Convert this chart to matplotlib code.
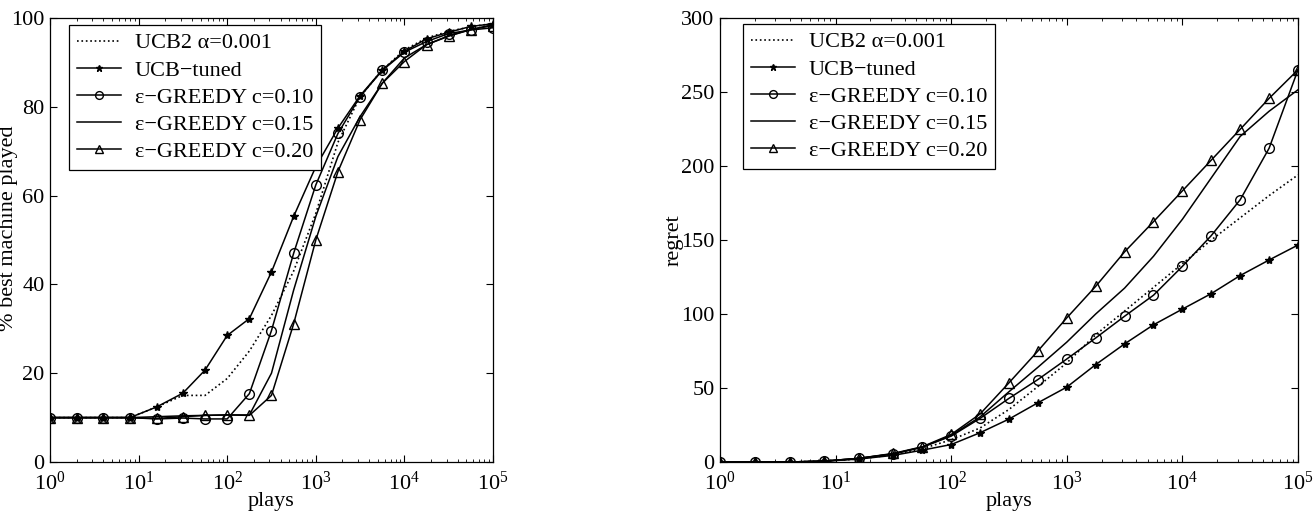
import numpy as np
import matplotlib
matplotlib.use('Agg')
import matplotlib.pyplot as plt
from matplotlib.ticker import LogLocator, NullFormatter

plt.rcParams['font.family'] = ['Liberation Serif', 'DejaVu Serif']
plt.rcParams['mathtext.fontset'] = 'stix'

# plays: 1,2,4,8,16 then quarter decades 10^1.5 .. 10^5
plays = [1, 2, 4, 8, 16, 31.6, 56.2, 100, 178, 316, 562, 1000, 1778, 3162,
         5623, 10000, 17783, 31623, 56234, 100000]

labels = ['UCB2 \u03b1=0.001', 'UCB\u2212tuned', '\u03b5\u2212GREEDY c=0.10',
          '\u03b5\u2212GREEDY c=0.15', '\u03b5\u2212GREEDY c=0.20']

# % best machine played
best_ucb2 = [10, 10, 10, 10, 12.4, 15.0, 15.0, 18.8, 25.0, 33.0, 43.0, 56.0,
             72.0, 82.3, 88.3, 92.8, 95.5, 97.0, 98.0, 98.8]
best_tuned = [10, 10, 10, 10, 12.4, 15.5, 20.7, 28.5, 32.3, 42.8, 55.3, 66.5,
              75.2, 82.5, 88.3, 92.5, 95.3, 96.8, 98.1, 98.7]
best_g10 = [10, 10, 10, 10, 9.7, 9.9, 9.7, 9.7, 15.4, 29.6, 47.0, 62.4,
            74.0, 82.3, 88.2, 92.3, 94.7, 96.5, 97.3, 97.8]
best_g15 = [10, 10, 10, 10, 10.2, 10.4, 10.5, 10.6, 10.6, 20.0, 38.7, 55.3,
            68.8, 77.8, 85.3, 91.0, 94.0, 95.9, 97.4, 98.5]
best_g20 = [10, 10, 10, 10, 9.8, 10.2, 10.5, 10.6, 10.5, 15.0, 31.1, 50.0,
            65.4, 77.1, 85.3, 90.2, 94.0, 96.0, 97.4, 98.3]

# regret
reg_ucb2 = [0, 0, 0, 0.7, 2.0, 5.0, 9.0, 15.0, 23.0, 35.5, 51.0, 67.0,
            86.0, 102.0, 118.0, 134.0, 150.0, 165.0, 180.0, 194.0]
reg_tuned = [0, 0, 0, 0.5, 2.0, 4.5, 8.0, 11.8, 19.8, 29.0, 40.0, 50.6,
             65.8, 79.8, 92.7, 103.3, 113.8, 126.0, 136.5, 146.6]
reg_g10 = [0, 0, 0, 0.6, 2.5, 5.5, 10.0, 17.5, 29.5, 43.0, 55.7, 69.6,
           83.8, 98.5, 112.7, 132.2, 153.0, 177.2, 212.0, 265.0]
reg_g15 = [0, 0, 0, 0.6, 2.5, 5.5, 10.0, 18.0, 30.5, 47.5, 64.0, 81.0,
           100.0, 117.5, 139.0, 164.0, 192.0, 220.0, 237.0, 251.5]
reg_g20 = [0, 0, 0, 0.6, 2.5, 5.8, 10.3, 18.6, 32.5, 53.5, 75.0, 97.4,
           118.7, 142.0, 162.4, 183.2, 204.0, 224.8, 245.7, 265.0]

W, H = 1314, 519
fig = plt.figure(figsize=(W / 100, H / 100), dpi=100)

ax1 = fig.add_axes([50 / W, (H - 462) / H, 443 / W, 444 / H])
ax2 = fig.add_axes([720 / W, (H - 462) / H, 578 / W, 444 / H])

styles = [dict(ls=':', marker=None, lw=1.2),
          dict(ls='-', marker='*', ms=6, lw=1.1, mfc='k'),
          dict(ls='-', marker='o', ms=7, lw=1.1, mfc='none'),
          dict(ls='-', marker=None, lw=1.1),
          dict(ls='-', marker='^', ms=7, lw=1.1, mfc='none')]


def draw(ax, series, ymax, ystep, ylabel):
    for y, st, lab in zip(series, styles, labels):
        ax.plot(plays, y, color='k', mec='k', label=lab, **st)
    ax.set_xscale('log')
    ax.set_xlim(1, 1e5)
    ax.set_ylim(0, ymax)
    ax.set_yticks(np.arange(0, ymax + 1, ystep))
    ax.xaxis.set_minor_locator(LogLocator(base=10, subs=np.arange(2, 10), numticks=20))
    ax.xaxis.set_minor_formatter(NullFormatter())
    ax.tick_params(which='both', direction='in', top=True, right=True,
                   labelsize=16, pad=4)
    ax.tick_params(axis='x', which='major', pad=7)
    ax.tick_params(which='major', length=5, width=0.8)
    ax.tick_params(which='minor', length=2.5, width=0.6)
    for s in ax.spines.values():
        s.set_linewidth(0.9)
    ax.set_xlabel('plays', fontsize=16, labelpad=-2)
    if ylabel:
        ax.set_ylabel(ylabel, fontsize=16, labelpad=-2)


draw(ax1, [best_ucb2, best_tuned, best_g10, best_g15, best_g20], 100, 20, None)
draw(ax2, [reg_ucb2, reg_tuned, reg_g10, reg_g15, reg_g20], 300, 50, 'regret')

# left y label sits partly off the page edge, as in the source
fig.text(9 / W, 0.56, '% best machine played', rotation=90, fontsize=16,
         ha='center', va='center')

for ax, anchor in [(ax1, (19 / 443, 1 - 7 / 444)), (ax2, (23 / 578, 1 - 6 / 444))]:
    leg = ax.legend(loc='upper left', bbox_to_anchor=anchor, borderaxespad=0,
                    fontsize=16, frameon=True, fancybox=False, framealpha=1,
                    edgecolor='k', handlelength=2.0, handletextpad=0.6,
                    labelspacing=0.3, borderpad=0.35, markerscale=0.8)
    leg.get_frame().set_linewidth(0.9)

fig.savefig('out.png', dpi=100)
